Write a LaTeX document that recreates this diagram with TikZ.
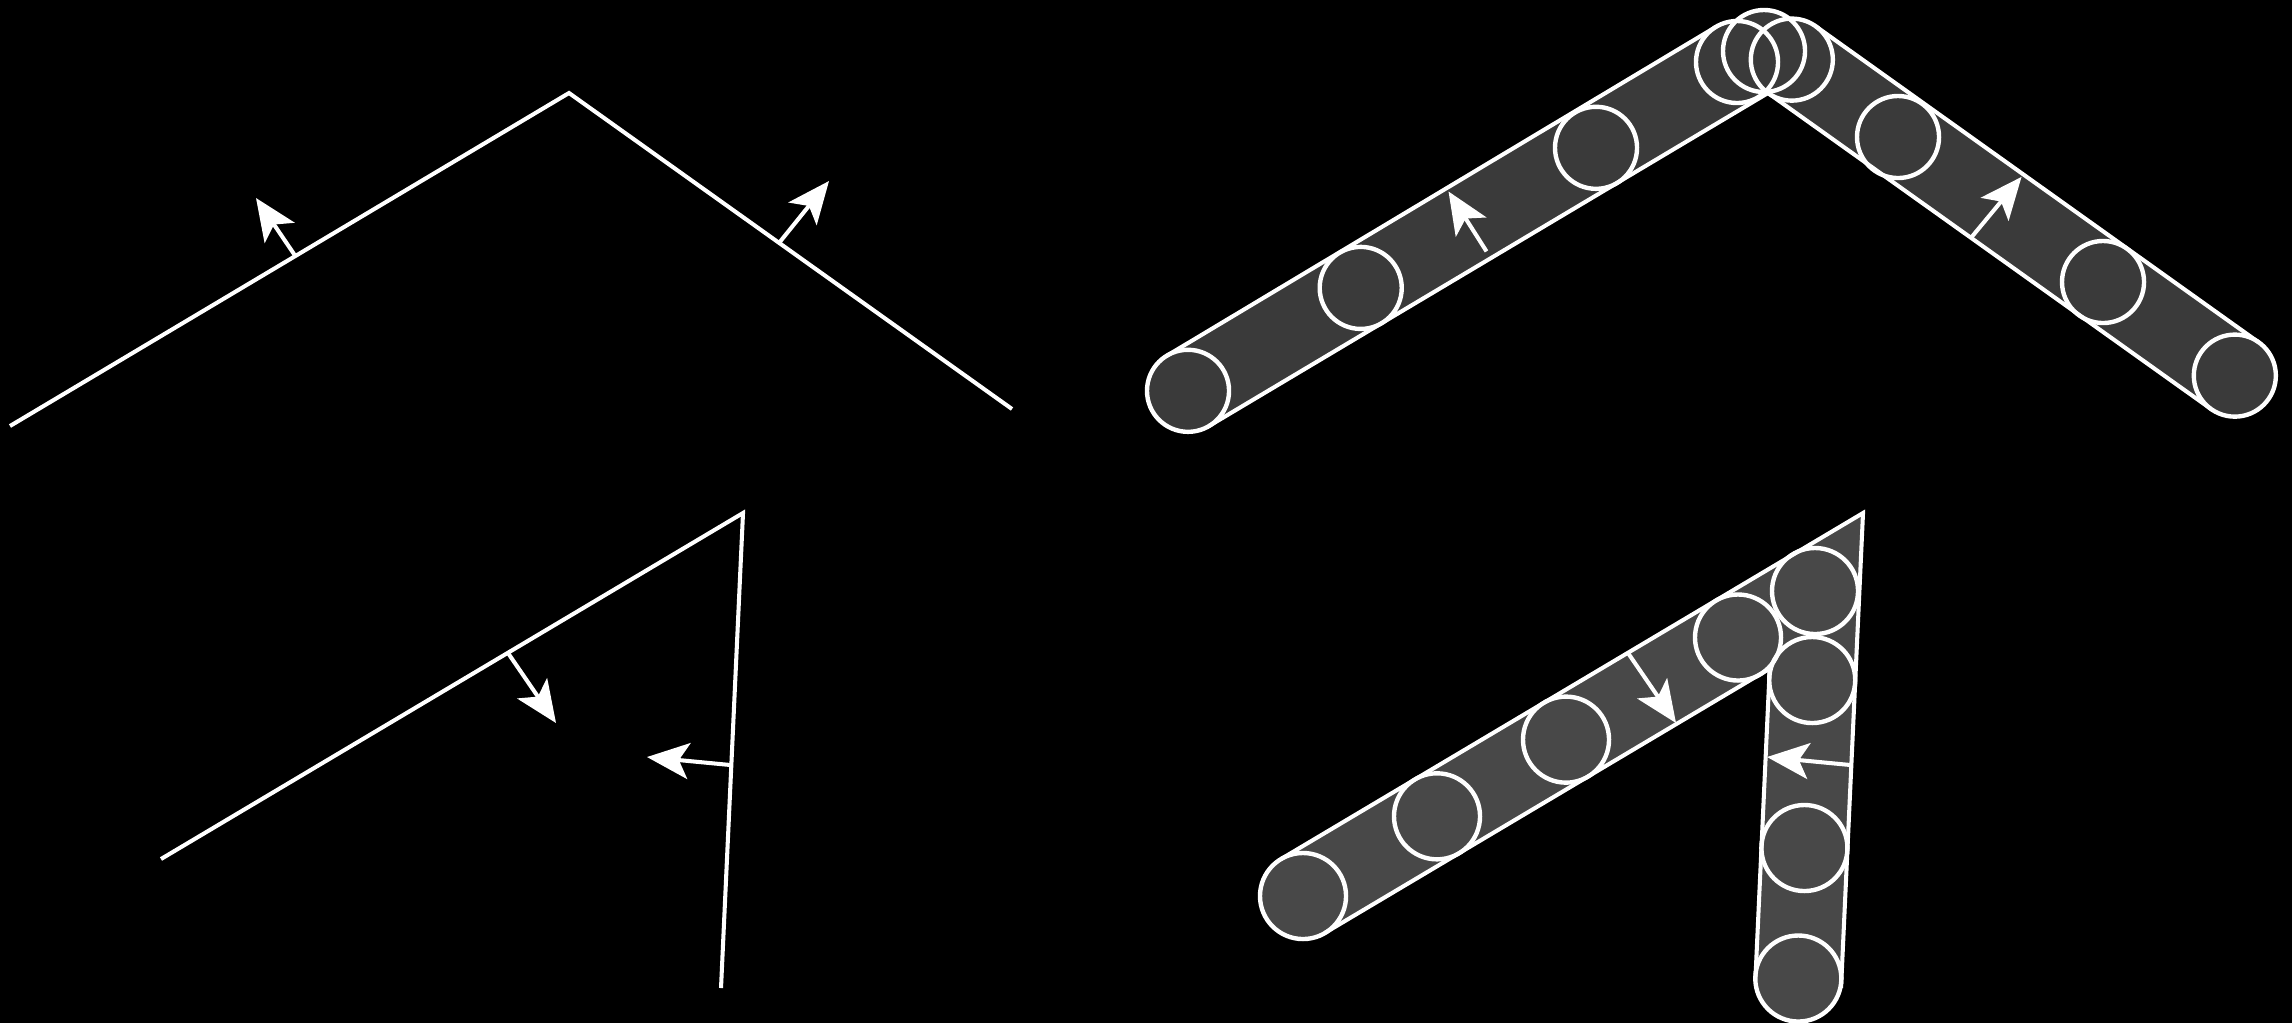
\documentclass[tikz,border=0pt]{standalone}
\usetikzlibrary{arrows.meta}
\definecolor{topfill}{RGB}{58,58,58}
\definecolor{botfill}{RGB}{72,72,72}
\begin{document}
\begin{tikzpicture}[x=0.01cm,y=-0.01cm,
  edge/.style={white,line width=1.15pt,line join=miter},
  normal/.style={white,line width=1.15pt,-{Stealth[length=0.42cm,width=0.36cm,inset=0.1cm]}},
  roller/.style={white,line width=1.25pt}]
\fill[black] (0,0) rectangle (2292,1023);
\useasboundingbox (0,0) rectangle (2292,1023);

% ---------- top left: bare polyline ----------
\coordinate (L0) at (10,426);
\coordinate (LA) at (569,93);
\coordinate (L2) at (1012,409);
\draw[edge] (L0) -- (LA) -- (L2);
\coordinate (la1) at (295,255.5); \coordinate (la1t) at (256,198);
\coordinate (la2) at (779,243);   \coordinate (la2t) at (829,181);
\draw[normal] (la1) -- (la1t);
\draw[normal] (la2) -- (la2t);

% ---------- top right: tube with rollers ----------
\coordinate (T0) at (1209,426);
\coordinate (TA) at (1768,93);
\coordinate (T2) at (2211,409);
\coordinate (T0u) at (1167,355.6);
\coordinate (T4u) at (1716,26.8);
\coordinate (T6u) at (1815.6,26.2);
\coordinate (T2u) at (2258.6,342.3);
\coordinate (c1) at (1188,390.8);
\coordinate (c2) at (1360.7,287.9);
\coordinate (c3) at (1596,147.8);
\coordinate (c4) at (1737,62);
\coordinate (c5) at (1764,51);
\coordinate (c6) at (1791.8,59.6);
\coordinate (c7) at (1898,137);
\coordinate (c8) at (2103,282);
\coordinate (c9) at (2234.8,375.6);
\fill[topfill] (T0) -- (TA) -- (T2) -- (T2u) -- (T6u) -- (c5) -- (T4u) -- (T0u) -- cycle;
\foreach \c in {c1,c2,c3,c4,c5,c6,c7,c8,c9}
  \fill[topfill] (\c) circle[radius=0.41cm];
\coordinate (ta1) at (1486.5,251.4); \coordinate (ta1t) at (1448.5,191.5);
\coordinate (ta2) at (1971.8,236.8); \coordinate (ta2t) at (2021.5,176.9);
\draw[normal] (ta1) -- (ta1t);
\draw[normal] (ta2) -- (ta2t);
\draw[edge] (T0) -- (TA) -- (T2);
\draw[edge] (T0u) -- (T4u);
\draw[edge] (T6u) -- (T2u);
\foreach \c in {c1,c2,c3,c4,c5,c6,c7,c8,c9}
  \draw[roller] (\c) circle[radius=0.41cm];

% ---------- bottom left: bare polyline ----------
\coordinate (B0) at (161,859);
\coordinate (BA) at (743,513);
\coordinate (B2) at (721,988);
\draw[edge] (B0) -- (BA) -- (B2);
\coordinate (ba1) at (508,653);   \coordinate (ba1t) at (556,723);
\coordinate (ba2) at (730.5,765); \coordinate (ba2t) at (647,757);
\draw[normal] (ba1) -- (ba1t);
\draw[normal] (ba2) -- (ba2t);

% ---------- bottom right: tube with rollers ----------
\coordinate (R0) at (1281,859);
\coordinate (RA) at (1863,513);
\coordinate (R2) at (1841,988);
\coordinate (R2e) at (1841.4,980.4);
\coordinate (R0l) at (1324.9,932.9);
\coordinate (RX) at (1769.7,668.5);
\coordinate (R2l) at (1755.5,976.4);
\coordinate (b1) at (1303,896);
\coordinate (b2) at (1437,816.3);
\coordinate (b3) at (1566,739.6);
\coordinate (b4) at (1738,637.5);
\coordinate (b5) at (1815,591);
\coordinate (b6) at (1812.2,680);
\coordinate (b7) at (1804.4,848);
\coordinate (b8) at (1798.3,978.5);
\fill[botfill] (R0) -- (RA) -- (R2e) -- (R2l) -- (RX) -- (R0l) -- cycle;
\foreach \c in {b1,b2,b3,b4,b5,b6,b7,b8}
  \fill[botfill] (\c) circle[radius=0.43cm];
\coordinate (ra1) at (1628,653);   \coordinate (ra1t) at (1676,723);
\coordinate (ra2) at (1850.5,765); \coordinate (ra2t) at (1767,757);
\draw[normal] (ra1) -- (ra1t);
\draw[normal] (ra2) -- (ra2t);
\draw[edge] (R0) -- (RA) -- (R2);
\draw[edge] (R0l) -- (RX) -- (R2l);
\foreach \c in {b1,b2,b3,b4,b5,b6,b7,b8}
  \draw[roller] (\c) circle[radius=0.43cm];
\end{tikzpicture}
\end{document}
